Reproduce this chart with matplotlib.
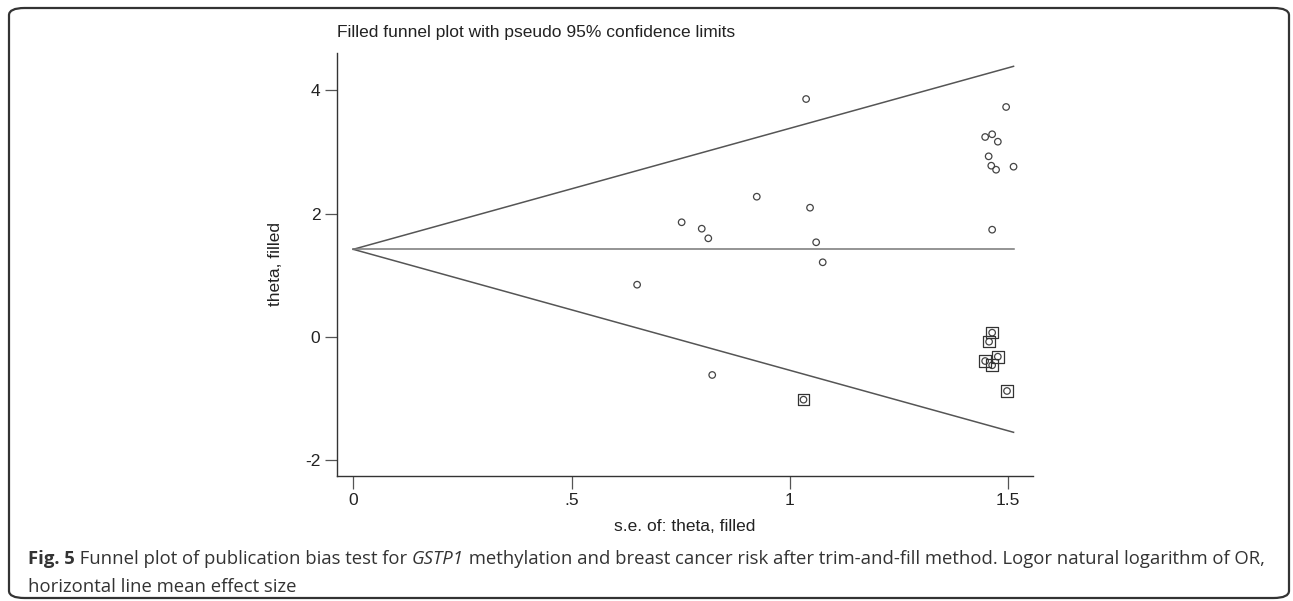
import matplotlib
matplotlib.use("Agg")
import matplotlib.pyplot as plt
from matplotlib.patches import FancyBboxPatch

plt.rcParams["axes.unicode_minus"] = False

# observed studies (s.e., theta)
se_obs = [1.037, 1.495, 1.447, 1.463, 1.476, 1.455, 1.461, 1.472, 1.512, 0.924,
          1.046, 0.752, 0.798, 0.813, 1.463, 1.060, 1.075, 0.650, 0.822]
theta_obs = [3.854, 3.725, 3.239, 3.283, 3.163, 2.926, 2.774, 2.709, 2.758, 2.272,
             2.094, 1.858, 1.754, 1.598, 1.738, 1.534, 1.210, 0.847, -0.615]

# imputed (filled) studies
se_fill = [1.031, 1.463, 1.456, 1.476, 1.447, 1.463, 1.497]
theta_fill = [-1.015, 0.070, -0.076, -0.319, -0.389, -0.458, -0.874]

theta_mean = 1.42
x_ticks = [0, 0.5, 1, 1.5]
x_ticklabels = ["0", ".5", "1", "1.5"]
y_ticks = [-2, 0, 2, 4]

fig = plt.figure(figsize=(12.93, 6.01), dpi=100)
ax = fig.add_axes([0.2606, 0.208, 0.538, 0.7043])

line_col = "#555555"
se_max = max(se_obs + se_fill)
ax.plot([0, se_max], [theta_mean, theta_mean + 1.96 * se_max], color=line_col, lw=1.1)
ax.plot([0, se_max], [theta_mean, theta_mean - 1.96 * se_max], color=line_col, lw=1.1)
ax.plot([0, se_max], [theta_mean, theta_mean], color="#777777", lw=1.1)

ax.scatter(se_obs + se_fill, theta_obs + theta_fill, s=22, facecolors="none",
           edgecolors="#444444", linewidths=0.9, zorder=3)
ax.scatter(se_fill, theta_fill, s=70, marker="s", facecolors="none",
           edgecolors="#333333", linewidths=0.9, zorder=3)

ax.set_xlim(-0.0373, 1.5556)
ax.set_ylim(-2.251, 4.604)
ax.set_xticks(x_ticks)
ax.set_xticklabels(x_ticklabels)
ax.set_yticks(y_ticks)
for s in ["top", "right"]:
    ax.spines[s].set_visible(False)
for s in ["left", "bottom"]:
    ax.spines[s].set_color("#333333")
    ax.spines[s].set_linewidth(1.0)
ax.tick_params(length=9, width=0.9, color="#555555", labelsize=12.5,
               labelcolor="#222222", pad=3, labelfontfamily="Liberation Sans")
ax.set_xlabel("s.e. of: theta, filled", fontsize=12.5, family="Liberation Sans",
              color="#222222", labelpad=8)
ax.set_ylabel("theta, filled", fontsize=12.5, family="Liberation Sans",
              color="#222222", labelpad=16)
fig.text(337 / 1293, 1 - 33 / 601, "Filled funnel plot with pseudo 95% confidence limits",
         fontsize=12.5, family="Liberation Sans", color="#222222", va="center", ha="left")

# outer frame
frame = FancyBboxPatch((9 / 1293, 3 / 601), 1280 / 1293, 590 / 601,
                       boxstyle="round,pad=0,rounding_size=0.012",
                       transform=fig.transFigure, fill=False,
                       edgecolor="#333333", lw=1.6)
fig.patches.append(frame)

# caption, drawn piece by piece
cap_size = 13.3
parts = [("Fig. 5", "bold", "normal"),
         (" Funnel plot of publication bias test for ", "normal", "normal"),
         ("GSTP1", "normal", "italic"),
         (" methylation and breast cancer risk after trim-and-fill method. Logor natural logarithm of OR,",
          "normal", "normal")]
renderer = fig.canvas.get_renderer()
x = 28
for txt, w, st in parts:
    t = fig.text(x / 1293, 1 - 559 / 601, txt, fontsize=cap_size, family="Open Sans",
                 weight=w, style=st, color="#333333", va="center", ha="left")
    bb = t.get_window_extent(renderer)
    x += bb.width
fig.text(28 / 1293, 1 - 587 / 601, "horizontal line mean effect size", fontsize=cap_size,
         family="Open Sans", color="#333333", va="center", ha="left")

fig.savefig("out.png", dpi=100)
